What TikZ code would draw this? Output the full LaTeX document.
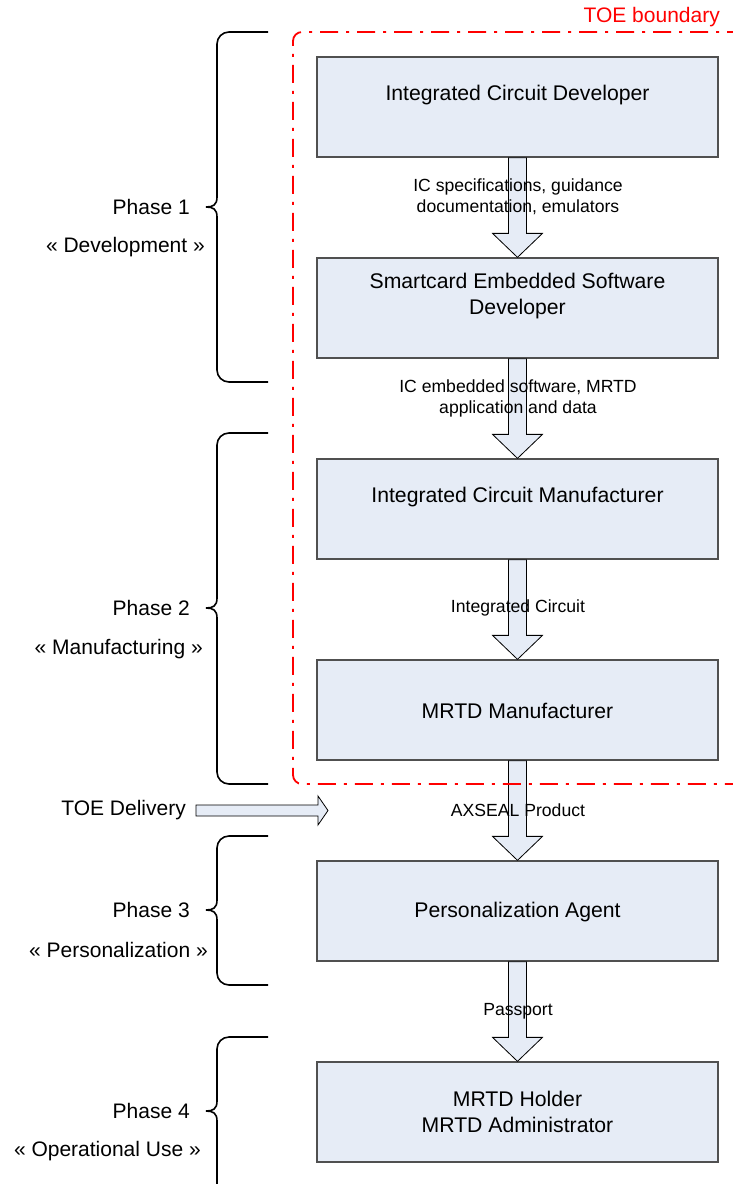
\documentclass[tikz,border=0pt]{standalone}
\usepackage{fontspec}
\setmainfont{Liberation Sans}
\usetikzlibrary{calc}
\definecolor{boxfill}{RGB}{230,236,246}
\definecolor{boxline}{RGB}{80,80,80}
\definecolor{toered}{RGB}{255,0,0}
\tikzset{
  box/.style={draw=boxline, line width=1.3pt, fill=boxfill, minimum width=401pt, minimum height=100pt, inner sep=0pt},
  boxtext/.style={font=\fontsize{21.2}{26}\selectfont, align=center, inner sep=0pt},
  lbl/.style={font=\fontsize{17.6}{21}\selectfont, align=center, inner sep=0pt},
  phase/.style={font=\fontsize{21}{25}\selectfont, anchor=east, inner sep=0pt},
  blockarrow/.style={draw=black, line width=0.8pt, fill=boxfill, line join=miter},
  brace/.style={draw=black, line width=1.6pt, rounded corners=12pt},
  curl/.style={draw=black, line width=1.6pt},
  boundary/.style={draw=toered, line width=1.8pt, rounded corners=9pt, dash pattern=on 18pt off 8pt on 3pt off 8pt}
}
\newcommand\varrow[2]{%
  \path[blockarrow] ($(#1)+(-9,0)$) -- ($(#2)+(-9,-24)$) -- ($(#2)+(-25,-24)$) -- (#2) -- ($(#2)+(25,-24)$) -- ($(#2)+(9,-24)$) -- ($(#1)+(9,0)$) -- cycle;}
\newcommand\phasebrace[3]{% top, tip, bottom
  \path[brace] (268,#1) -- (217,#1) -- (217,#2-10);
  \path[curl] (217,#2-10) .. controls (217,#2-2) and (213,#2) .. (206,#2) .. controls (213,#2) and (217,#2+2) .. (217,#2+10);
  \path[brace] (217,#2+10) -- (217,#3) -- (268,#3);}
\begin{document}
\begin{tikzpicture}[x=1pt,y=-1pt]
\useasboundingbox (0,0) rectangle (732,1184);
% boxes
\node[box] (b1) at (517.5,107) {};
\node[box] (b2) at (517.5,308) {};
\node[box] (b3) at (517.5,509) {};
\node[box] (b4) at (517.5,710) {};
\node[box] (b5) at (517.5,911) {};
\node[box] (b6) at (517.5,1112) {};
\node[boxtext] (t1) at (517.5,95) {Integrated Circuit Developer};
\node[boxtext] (t2) at (517.5,296) {Smartcard Embedded Software\\Developer};
\node[boxtext] (t3) at (517.5,497) {Integrated Circuit Manufacturer};
\node[boxtext] (t4) at (517.5,711) {MRTD Manufacturer};
\node[boxtext] (t5) at (517.5,912) {Personalization Agent};
\node[boxtext] (t6) at (517.5,1112) {MRTD Holder\\MRTD Administrator};
% block arrows
\varrow{b1.south}{b2.north}
\varrow{b2.south}{b3.north}
\varrow{b3.south}{b4.north}
\varrow{b4.south}{b5.north}
\varrow{b5.south}{b6.north}
% arrow labels
\node[lbl] (l1) at (518,197) {IC specifications, guidance\\documentation, emulators};
\node[lbl] (l2) at (518,398) {IC embedded software, MRTD\\application and data};
\node[lbl] (l3) at (518,608) {Integrated Circuit};
\node[lbl] (l4) at (518,810) {AXSEAL Product};
\node[lbl] (l5) at (518,1011) {Passport};
% TOE delivery arrow
\coordinate (dtail) at (196,810.5);
\coordinate (dtip) at (328,810.5);
\path[blockarrow] ($(dtail)+(0,-5.5)$) -- ($(dtip)+(-10,-5.5)$) -- ($(dtip)+(-10,-14.5)$) -- (dtip) -- ($(dtip)+(-10,14.5)$) -- ($(dtip)+(-10,5.5)$) -- ($(dtail)+(0,5.5)$) -- cycle;
\node[phase] (dl) at (186,810) {TOE Delivery};
% TOE boundary
\path[boundary] (745,32) -- (293,32) -- (293,784) -- (745,784);
\node[phase, text=toered] (tb) at (720,17) {TOE boundary};
% braces
\phasebrace{32}{207}{382}
\phasebrace{433}{608}{784}
\phasebrace{836}{910}{985}
\phasebrace{1037}{1111}{1200}
% phase labels
\node[phase] (p1) at (190,207) {Phase 1};
\node[phase] (p1b) at (205,247) {« Development »};
\node[phase] (p2) at (190,608) {Phase 2};
\node[phase] (p2b) at (203,649) {« Manufacturing »};
\node[phase] (p3) at (190,910) {Phase 3};
\node[phase] (p3b) at (208,950) {« Personalization »};
\node[phase] (p4) at (190,1111) {Phase 4};
\node[phase] (p4b) at (201,1151) {« Operational Use »};
\end{tikzpicture}
\end{document}
